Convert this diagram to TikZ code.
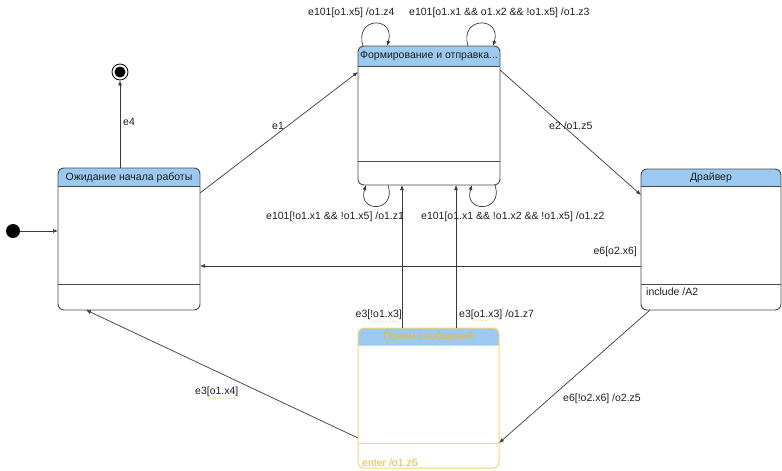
\documentclass[tikz,border=0pt]{standalone}
\usepackage{fontspec}
\setmainfont{Liberation Sans}
\usetikzlibrary{arrows.meta}
\definecolor{hdr}{HTML}{9CC9EF}
\definecolor{edge}{HTML}{3A3A3A}
\definecolor{sborder}{HTML}{4A4A4A}
\definecolor{yelb}{HTML}{F7D66A}
\definecolor{yelt}{HTML}{E5BB3A}
\definecolor{txt}{HTML}{1E1E1E}
\newcommand\drawstate[3]{%
  \begin{scope}
    \clip[rounded corners=6pt] (#1.north west) rectangle (#1.south east);
    \fill[white] (#1.north west) rectangle (#1.south east);
    \fill[hdr] (#1.north west) rectangle ([yshift=-#2]#1.north east);
  \end{scope}
  \draw[#3] ([yshift=-#2]#1.north west) -- ([yshift=-#2]#1.north east);
  \draw[rounded corners=6pt,#3] (#1.north west) rectangle (#1.south east);
}
\begin{document}
\begin{tikzpicture}[x=1pt,y=-1pt,
  font=\fontsize{10.5}{12}\selectfont,
  sbox/.style={inner sep=0pt, outer sep=0pt},
  arr/.style={draw=edge, line width=0.7pt, -{Latex[length=5pt,width=4pt]}},
  lbl/.style={text=txt, inner sep=0pt},
  sline/.style={draw=sborder, line width=0.9pt},
  yline/.style={draw=yelb, line width=1pt},
  ttl/.style={text=txt, inner sep=0pt}
]
\useasboundingbox (0,0) rectangle (782,471);

% state nodes (geometry)
\node[sbox, minimum width=142pt, minimum height=142pt] (A) at (129,239) {};
\node[sbox, minimum width=142pt, minimum height=139pt] (B) at (429,115.5) {};
\node[sbox, minimum width=140pt, minimum height=141pt] (C) at (711,239.5) {};
\node[sbox, minimum width=141pt, minimum height=140pt] (D) at (428.5,398) {};

\drawstate{A}{18}{sline}
\drawstate{B}{20}{sline}
\drawstate{C}{17}{sline}
\drawstate{D}{17}{yline}

% compartment lines
\draw[sline] ([yshift=-116]A.north west) -- ([yshift=-116]A.north east);
\draw[sline] ([yshift=-115]B.north west) -- ([yshift=-115]B.north east);
\draw[sline] ([yshift=-115]C.north west) -- ([yshift=-115]C.north east);
\draw[yline] ([yshift=-115]D.north west) -- ([yshift=-115]D.north east);

% titles
\node[ttl] (At) at ([yshift=-9.5]A.north) {Ожидание начала работы};
\node[ttl] (Bt) at ([yshift=-10]B.north) {Формирование и отправка...};
\node[ttl] (Ct) at ([yshift=-9]C.north) {Драйвер};
\node[ttl, text=yelt] (Dt) at ([yshift=-8.5]D.north) {Прием сообщений};
\node[lbl, anchor=west] (Ci) at (646,292) {include /A2};
\node[lbl, anchor=west, text=yelt] (Di) at (362,463) {enter /o1.z6};

% pseudostates
\node[circle, fill=black, minimum size=14pt, inner sep=0pt] (init) at (13,231) {};
\node[circle, draw=black, line width=0.8pt, minimum size=16pt, inner sep=0pt] (fin) at (120,72) {};
\fill[black] (fin.center) circle (5.5pt);

% transitions
\draw[arr] (init) -- (A.west |- init);
\draw[arr] (A.north -| fin) -- (fin.south);
\node[lbl, anchor=west] (l4) at (123,122) {e4};

\draw[arr] ([yshift=-25]A.north east) -- ([yshift=-26]B.north west);
\node[lbl] (l1) at (278,126) {e1};

\draw[arr] ([yshift=-24]B.north east) -- ([yshift=-26]C.north west);
\node[lbl, anchor=west] (l2) at (549,126) {e2 /o1.z5};

\draw[arr] ([yshift=-97]C.north west) -- ([yshift=-97]C.north west -| A.east);
\node[lbl, anchor=east] (l6) at (637,252) {e6[o2.x6]};

\draw[arr] ([xshift=9]C.south west) -- ([yshift=-115]D.north east);
\node[lbl, anchor=west] (l6b) at (563,399) {e6[!o2.x6] /o2.z5};

\draw[arr] ([yshift=-110]D.north west) -- ([xshift=28]A.south west);
\node[lbl, anchor=west] (l3a) at (195,392) {e3[o1.x4]};

\draw[arr] ([xshift=-26.5]D.north) -- ([xshift=-27]B.south);
\node[lbl, anchor=east] (l3b) at (402,315) {e3[!o1.x3]};
\draw[arr] ([xshift=27.5]D.north) -- ([xshift=27]B.south);
\node[lbl, anchor=west] (l3c) at (459,315) {e3[o1.x3] /o1.z7};

% self loops
\draw[arr] ([xshift=-66]B.north) .. controls +(-9,-30) and +(9,-30) .. ([xshift=-42]B.north);
\node[lbl, anchor=west] (lz4) at (308,13) {e101[o1.x5] /o1.z4};
\draw[arr] ([xshift=39]B.north) .. controls +(-9,-30) and +(9,-30) .. ([xshift=64]B.north);
\node[lbl, anchor=west] (lz3) at (409,13) {e101[o1.x1 \&\& o1.x2 \&\& !o1.x5] /o1.z3};
\draw[arr] ([xshift=-41]B.south) .. controls +(9,28) and +(-9,28) .. ([xshift=-63]B.south);
\node[lbl, anchor=west] (lz1) at (266,217) {e101[!o1.x1 \&\& !o1.x5] /o1.z1};
\draw[arr] ([xshift=66]B.south) .. controls +(9,28) and +(-9,28) .. ([xshift=43]B.south);
\node[lbl, anchor=west] (lz2) at (421,217) {e101[o1.x1 \&\& !o1.x2 \&\& !o1.x5] /o1.z2};

% yellow dotted underlines
\draw[draw=yelb, dotted, line width=0.8pt] (372,321) -- (398,321);
\draw[draw=yelb, dotted, line width=0.8pt] (475,320) -- (489,320);
\draw[draw=yelb, dotted, line width=0.8pt] (209,398) -- (235,398);
\end{tikzpicture}
\end{document}
